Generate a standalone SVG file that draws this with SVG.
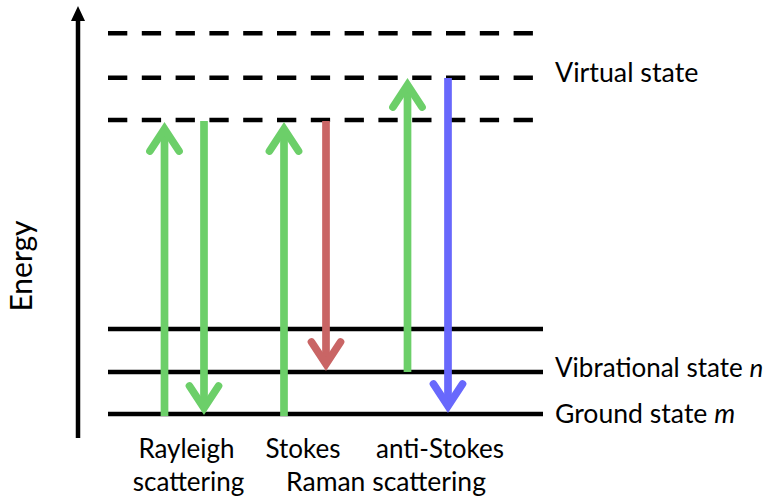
<svg xmlns="http://www.w3.org/2000/svg" width="771" height="499" viewBox="0 0 771 499">
  <style>
    .lbl { font-family: Lato, "Open Sans", "Liberation Sans", sans-serif; font-size: 26px; fill: #000; }
    .axis-title { font-size: 30px; }
    .virtual { stroke: #000; stroke-width: 4.5; stroke-dasharray: 19.3 14.5; fill: none; }
    .level { stroke: #000; stroke-width: 4.5; fill: none; }
    .shaft { stroke-width: 7.7; fill: none; stroke-linecap: butt; }
    .head { stroke-width: 7.7; fill: none; stroke-linecap: round; stroke-linejoin: miter; stroke-miterlimit: 10; }
    .green { stroke: #6ccf69; }
    .red { stroke: #c96565; }
    .blue { stroke: #6868fc; }
  </style>

  <rect width="771" height="499" fill="#fff"/>

  <!-- energy axis -->
  <g id="energy-axis">
    <line x1="78" y1="438" x2="78" y2="19" stroke="#000" stroke-width="4.5"/>
    <polygon points="78,6 71,21 85,21" fill="#000"/>
    <text class="lbl axis-title" transform="translate(32,266) rotate(-90)" text-anchor="middle">Energy</text>
  </g>

  <!-- virtual states (dashed) -->
  <g id="virtual-states">
    <line class="virtual" x1="108" y1="33.3" x2="534" y2="33.3"/>
    <line class="virtual" x1="108" y1="77.7" x2="534" y2="77.7"/>
    <line class="virtual" x1="108" y1="120" x2="534" y2="120"/>
    <text class="lbl" x="555" y="82" style="font-size:26.8px">Virtual state</text>
  </g>

  <!-- real states (solid) -->
  <g id="level-upper">
    <line class="level" x1="108" y1="329" x2="543" y2="329"/>
  </g>
  <g id="level-vibrational">
    <line class="level" x1="108" y1="372" x2="543" y2="372"/>
    <text class="lbl" x="555" y="377">Vibrational state <tspan font-style="italic">n</tspan></text>
  </g>
  <g id="level-ground">
    <line class="level" x1="108" y1="414" x2="543" y2="414"/>
    <text class="lbl" x="555" y="423" style="font-size:26.6px">Ground state <tspan font-style="italic">m</tspan></text>
  </g>

  <!-- transitions -->
  <g id="transitions">
    <!-- Rayleigh: absorb / emit -->
    <g id="rayleigh-up">
      <line class="shaft green" x1="164.5" y1="416" x2="164.5" y2="130"/>
      <polyline class="head green" points="150,151 164.5,129 179,151"/>
    </g>
    <g id="rayleigh-down">
      <line class="shaft green" x1="204" y1="121" x2="204" y2="407"/>
      <polyline class="head green" points="189.5,386 204,408 218.5,386"/>
    </g>
    <!-- Stokes -->
    <g id="stokes-up">
      <line class="shaft green" x1="284" y1="416" x2="284" y2="130"/>
      <polyline class="head green" points="269.5,151 284,129 298.5,151"/>
    </g>
    <g id="stokes-down">
      <line class="shaft red" x1="326" y1="121" x2="326" y2="363"/>
      <polyline class="head red" points="311.5,342 326,364 340.5,342"/>
    </g>
    <!-- anti-Stokes -->
    <g id="anti-stokes-up">
      <line class="shaft green" x1="407.5" y1="372" x2="407.5" y2="86"/>
      <polyline class="head green" points="393,107 407.5,85 422,107"/>
    </g>
    <g id="anti-stokes-down">
      <line class="shaft blue" x1="448" y1="78" x2="448" y2="405"/>
      <polyline class="head blue" points="433.5,384 448,406 462.5,384"/>
    </g>
  </g>

  <!-- process labels -->
  <g id="labels">
    <text class="lbl" x="186.5" y="458" text-anchor="middle">Rayleigh</text>
    <text class="lbl" x="188.5" y="491" text-anchor="middle">scattering</text>
    <text class="lbl" x="303" y="458" text-anchor="middle">Stokes</text>
    <text class="lbl" x="440" y="458" text-anchor="middle">anti-Stokes</text>
    <text class="lbl" x="386" y="491" text-anchor="middle" style="font-size:26.5px">Raman scattering</text>
  </g>
</svg>
